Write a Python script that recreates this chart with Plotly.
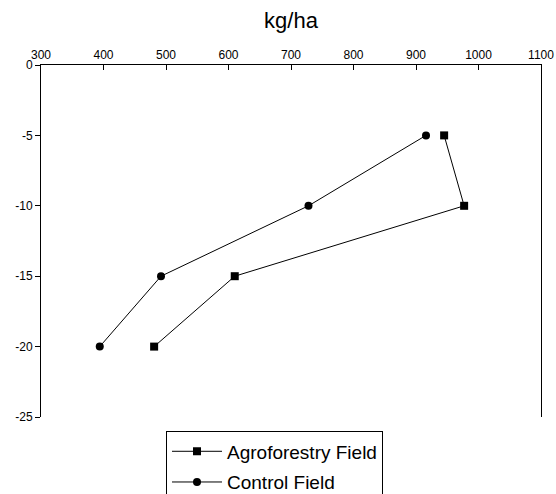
import plotly.graph_objects as go

depth = [-5, -10, -15, -20]
agro = [945, 977, 610, 481]
control = [916, 728, 492, 394]
series_names = ["Agroforestry Field", "Control Field"]
x_ticks = [300, 400, 500, 600, 700, 800, 900, 1000, 1100]
y_ticks = [0, -5, -10, -15, -20, -25]

fig = go.Figure()
fig.add_trace(go.Scatter(
    x=agro, y=depth, mode="lines+markers", name=series_names[0],
    line=dict(color="black", width=1),
    marker=dict(symbol="square", size=8, color="black"),
    legendgroup="a",
))
fig.add_trace(go.Scatter(
    x=control, y=depth, mode="lines+markers", name=series_names[1],
    line=dict(color="black", width=1),
    marker=dict(symbol="circle", size=8, color="black"),
    legendgroup="b",
))

font_family = "Liberation Sans, Arial, sans-serif"
fig.update_layout(
    width=556, height=494,
    margin=dict(l=41, r=15, t=65, b=77, autoexpand=False),
    paper_bgcolor="white", plot_bgcolor="white",
    font=dict(family=font_family, color="black", size=12),
    showlegend=True,
    legend=dict(
        x=0.25, y=-0.041, xanchor="left", yanchor="top",
        bordercolor="black", borderwidth=1, bgcolor="white",
        font=dict(size=19, family=font_family, color="black"),
        traceorder="grouped", tracegroupgap=3, itemwidth=50,
    ),
    xaxis=dict(
        side="top", range=[300, 1100], tickvals=x_ticks,
        ticktext=[str(v) for v in x_ticks],
        showgrid=False, zeroline=False, showline=True, linecolor="black",
        linewidth=1, ticks="inside", ticklen=5, tickcolor="black",
        tickfont=dict(size=12),
        title=dict(text="kg/ha", font=dict(size=22), standoff=13),
    ),
    yaxis=dict(
        range=[-25, 0], tickvals=y_ticks,
        ticktext=[str(v) for v in y_ticks],
        showgrid=False, zeroline=False, showline=True, mirror=True,
        linecolor="black", linewidth=1, ticks="outside", ticklen=5,
        tickcolor="black", tickfont=dict(size=12),
    ),
)

fig.write_html(
    "out.html",
    config={"displayModeBar": False},
    post_script="document.body.style.margin='0';document.body.style.overflow='hidden';",
)
